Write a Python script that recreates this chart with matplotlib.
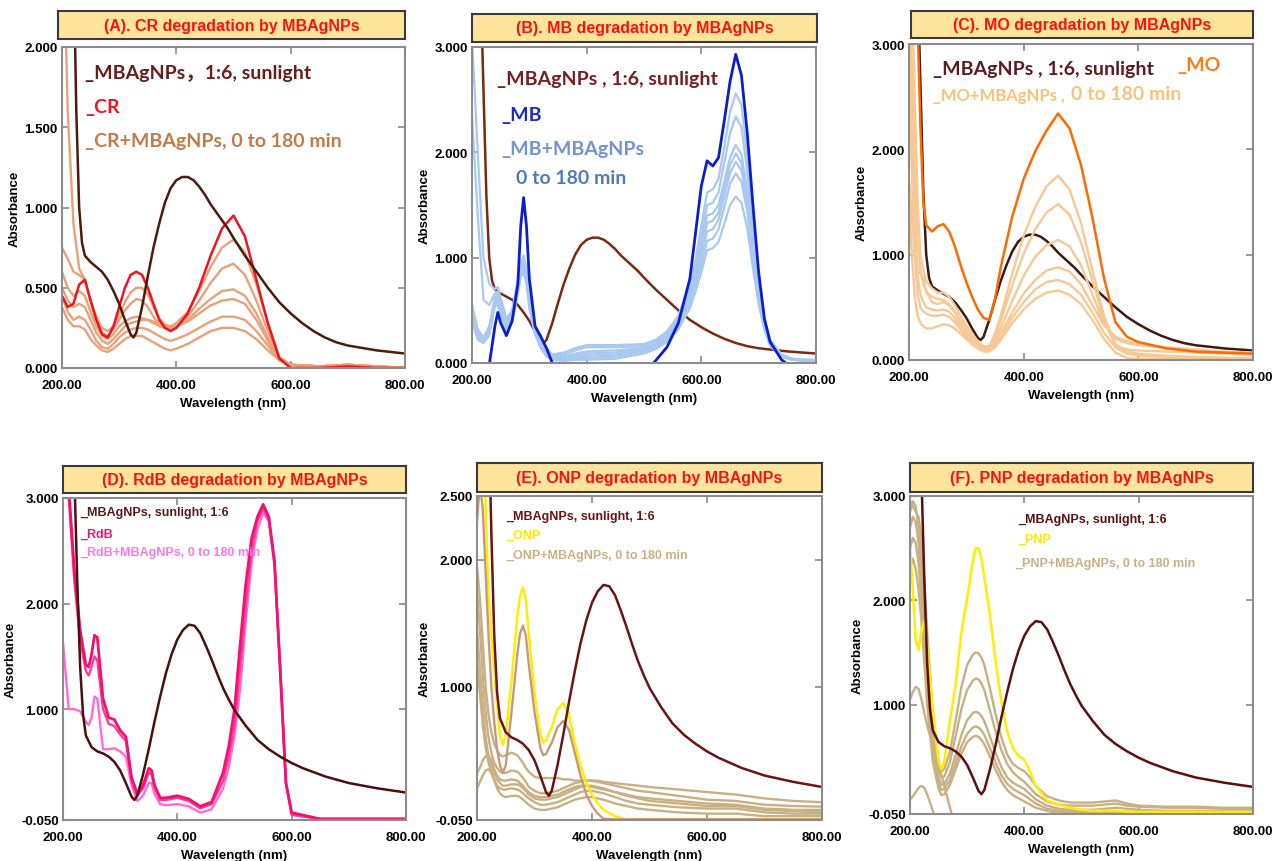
import numpy as np
import matplotlib.pyplot as plt

W, H = 1275, 862
plt.rcParams['font.family'] = ['Liberation Sans', 'DejaVu Sans']
BIG = ['Lato', 'Noto Sans CJK SC', 'DejaVu Sans']

# ---- MBAgNPs reference spectrum (shared grid) ----
wl_ag = [200, 210, 215, 220, 225, 230, 235, 240,
         250, 260, 270, 280, 290, 300, 310, 320,
         325, 330,
         340, 350, 360, 370, 380, 390, 400, 410, 420, 430, 440, 450, 460, 470, 480, 490, 500,
         520, 540, 560, 580, 600, 620, 640, 660, 680, 700,
         750, 800]
ag_top = [4.5, 4.0, 3.6, 2.6, 1.6, 1.0, 0.78, 0.70,
          0.66, 0.63, 0.60, 0.55, 0.48, 0.40, 0.30, 0.21,
          0.19, 0.22,
          0.38, 0.57, 0.75, 0.90, 1.03, 1.12, 1.17, 1.19, 1.19, 1.17, 1.13, 1.08, 1.02, 0.97, 0.92, 0.87, 0.81,
          0.70, 0.60, 0.50, 0.41, 0.34, 0.28, 0.23, 0.19, 0.16, 0.14,
          0.11, 0.09]
ag_bot = [4.0, 4.0, 3.8, 3.2, 2.2, 1.4, 0.95, 0.75,
          0.64, 0.60, 0.58, 0.55, 0.50, 0.42, 0.30, 0.17,
          0.14, 0.18,
          0.38, 0.62, 0.88, 1.12, 1.34, 1.52, 1.66, 1.75, 1.80, 1.79, 1.72, 1.60, 1.47, 1.33, 1.20, 1.09, 0.99,
          0.84, 0.71, 0.62, 0.55, 0.49, 0.44, 0.40, 0.36, 0.33, 0.30,
          0.25, 0.21]

# ---- (A) CR ----
wl_a = [200, 210, 220, 230, 240, 250, 260, 270, 280, 290, 300, 310, 320, 330, 340, 350, 360, 370, 380, 390, 400,
        420, 440, 460, 480, 500, 520, 540, 560, 580, 600,
        650, 700, 750, 800]
cr = [0.45, 0.38, 0.40, 0.52, 0.55, 0.42, 0.30, 0.21, 0.19, 0.26, 0.38, 0.50, 0.58, 0.60, 0.58, 0.50, 0.40, 0.30, 0.25, 0.23, 0.25,
      0.34, 0.50, 0.70, 0.87, 0.95, 0.82, 0.55, 0.28, 0.06, 0.0,
      0.0, 0.01, 0.0, 0.0]
cr_deg = [
    [3.0, 1.6, 0.9, 0.62, 0.55, 0.42, 0.32, 0.25, 0.23, 0.26, 0.33, 0.41, 0.47, 0.50, 0.50, 0.46, 0.38, 0.31, 0.27, 0.26, 0.28,
     0.35, 0.48, 0.63, 0.75, 0.80, 0.72, 0.52, 0.28, 0.07, 0.02, 0.01, 0.02, 0.01, 0.0],
    [0.75, 0.68, 0.60, 0.58, 0.55, 0.42, 0.30, 0.22, 0.20, 0.24, 0.30, 0.36, 0.40, 0.43, 0.42, 0.38, 0.32, 0.27, 0.25, 0.24, 0.26,
     0.32, 0.42, 0.53, 0.62, 0.65, 0.58, 0.42, 0.23, 0.06, 0.02, 0.01, 0.02, 0.01, 0.0],
    [0.60, 0.50, 0.45, 0.48, 0.45, 0.35, 0.26, 0.20, 0.18, 0.21, 0.26, 0.29, 0.31, 0.32, 0.31, 0.30, 0.28, 0.26, 0.25, 0.25, 0.26,
     0.30, 0.37, 0.43, 0.48, 0.49, 0.45, 0.34, 0.19, 0.05, 0.02, 0.01, 0.02, 0.01, 0.0],
    [0.50, 0.42, 0.38, 0.40, 0.38, 0.30, 0.22, 0.17, 0.15, 0.18, 0.22, 0.26, 0.28, 0.29, 0.30, 0.30, 0.29, 0.27, 0.26, 0.25, 0.26,
     0.29, 0.34, 0.39, 0.42, 0.43, 0.40, 0.30, 0.17, 0.05, 0.02, 0.01, 0.02, 0.01, 0.0],
    [0.45, 0.35, 0.30, 0.32, 0.30, 0.24, 0.17, 0.13, 0.12, 0.15, 0.19, 0.22, 0.24, 0.25, 0.25, 0.24, 0.22, 0.20, 0.18, 0.17, 0.18,
     0.21, 0.25, 0.29, 0.32, 0.32, 0.30, 0.23, 0.14, 0.05, 0.02, 0.01, 0.02, 0.01, 0.0],
    [0.38, 0.30, 0.26, 0.26, 0.24, 0.18, 0.14, 0.11, 0.10, 0.12, 0.15, 0.18, 0.20, 0.20, 0.20, 0.18, 0.16, 0.14, 0.12, 0.11, 0.12,
     0.15, 0.19, 0.23, 0.25, 0.25, 0.23, 0.18, 0.11, 0.05, 0.02, 0.01, 0.02, 0.01, 0.0],
]

# ---- (B) MB ----
wl_b = [200, 210, 220, 230, 240, 245, 250, 260, 270, 280, 285,
        290, 295, 300, 310, 320, 330, 340, 360, 380, 400, 450,
        500, 520, 540, 560, 580, 590, 600, 610, 620, 630, 640,
        650, 660, 670, 680, 690, 700, 710, 720, 740, 760, 800]
mb = [-0.1, -0.1, -0.1, -0.02, 0.35, 0.48, 0.38, 0.26, 0.40, 0.75, 1.30,
      1.57, 1.30, 0.80, 0.35, 0.25, 0.14, 0.0, -0.1, -0.1, -0.1, -0.1,
      -0.1, 0.02, 0.15, 0.38, 0.80, 1.24, 1.68, 1.92, 1.87, 1.95, 2.30,
      2.67, 2.93, 2.73, 2.19, 1.50, 0.86, 0.42, 0.20, 0.03, -0.05, -0.1]
mb_deg = [
    [3.10, 2.00, 1.00, 0.75, 0.70, 0.72, 0.62, 0.42, 0.50, 0.80, 0.95,
     1.02, 0.90, 0.65, 0.35, 0.22, 0.14, 0.08, 0.10, 0.14, 0.17, 0.17,
     0.18, 0.22, 0.30, 0.45, 0.75, 0.98, 1.30, 1.62, 1.65, 1.75, 2.05,
     2.38, 2.56, 2.45, 1.98, 1.35, 0.80, 0.42, 0.22, 0.08, 0.04, 0.03],
    [2.35, 1.40, 0.60, 0.55, 0.66, 0.68, 0.58, 0.40, 0.48, 0.77, 0.92,
     0.98, 0.87, 0.62, 0.33, 0.20, 0.12, 0.07, 0.08, 0.12, 0.15, 0.15,
     0.16, 0.20, 0.28, 0.42, 0.70, 0.92, 1.20, 1.50, 1.52, 1.62, 1.90,
     2.18, 2.34, 2.24, 1.82, 1.24, 0.74, 0.40, 0.21, 0.07, 0.03, 0.02],
    [0.55, 0.32, 0.24, 0.35, 0.62, 0.65, 0.55, 0.37, 0.46, 0.74, 0.90,
     0.95, 0.84, 0.60, 0.31, 0.18, 0.10, 0.06, 0.06, 0.09, 0.11, 0.12,
     0.14, 0.18, 0.26, 0.40, 0.66, 0.87, 1.12, 1.40, 1.42, 1.50, 1.72,
     1.95, 2.07, 1.98, 1.64, 1.12, 0.68, 0.37, 0.20, 0.07, 0.03, 0.02],
    [0.48, 0.28, 0.22, 0.32, 0.60, 0.62, 0.52, 0.35, 0.44, 0.72, 0.88,
     0.92, 0.82, 0.58, 0.30, 0.17, 0.09, 0.05, 0.05, 0.07, 0.09, 0.10,
     0.13, 0.17, 0.25, 0.38, 0.63, 0.83, 1.06, 1.33, 1.35, 1.43, 1.65,
     1.88, 1.99, 1.90, 1.58, 1.08, 0.65, 0.36, 0.19, 0.07, 0.03, 0.02],
    [0.45, 0.26, 0.21, 0.30, 0.58, 0.60, 0.50, 0.34, 0.42, 0.70, 0.86,
     0.90, 0.80, 0.56, 0.29, 0.16, 0.08, 0.05, 0.04, 0.05, 0.07, 0.08,
     0.12, 0.16, 0.24, 0.36, 0.60, 0.79, 1.00, 1.25, 1.27, 1.36, 1.58,
     1.80, 1.91, 1.83, 1.52, 1.04, 0.63, 0.35, 0.18, 0.06, 0.03, 0.02],
    [0.42, 0.24, 0.20, 0.28, 0.56, 0.58, 0.48, 0.32, 0.40, 0.68, 0.84,
     0.88, 0.78, 0.54, 0.28, 0.15, 0.07, 0.04, 0.03, 0.04, 0.05, 0.06,
     0.11, 0.15, 0.22, 0.34, 0.56, 0.74, 0.93, 1.16, 1.18, 1.27, 1.48,
     1.70, 1.80, 1.72, 1.44, 0.99, 0.60, 0.33, 0.17, 0.06, 0.03, 0.02],
    [0.40, 0.22, 0.19, 0.26, 0.54, 0.55, 0.46, 0.30, 0.38, 0.66, 0.82,
     0.85, 0.76, 0.52, 0.27, 0.14, 0.06, 0.03, 0.02, 0.03, 0.03, 0.04,
     0.09, 0.13, 0.20, 0.32, 0.52, 0.68, 0.86, 1.07, 1.09, 1.15, 1.32,
     1.50, 1.58, 1.52, 1.28, 0.90, 0.56, 0.31, 0.16, 0.06, 0.03, 0.02],
]

# ---- (C) MO ----
wl_c = [200, 205, 210, 215, 220, 225, 230,
        240, 250, 260, 270, 280, 290, 300, 310, 320, 330, 340, 350, 360, 370, 380,
        400, 420, 440, 460, 480, 500, 520, 540, 560, 580, 600,
        650, 700, 750, 800]
mo = [4.0, 4.0, 3.8, 3.2, 2.2, 1.5, 1.28,
      1.22, 1.27, 1.29, 1.22, 1.08, 0.90, 0.74, 0.60, 0.48, 0.40, 0.38, 0.58, 0.88, 1.12, 1.36,
      1.72, 1.98, 2.18, 2.34, 2.20, 1.85, 1.35, 0.78, 0.36, 0.22, 0.17,
      0.11, 0.08, 0.07, 0.06]
mo_deg = [
    [4.0, 3.5, 2.5, 1.5, 1.0, 0.85, 0.75,
     0.68, 0.64, 0.64, 0.60, 0.52, 0.42, 0.33, 0.25, 0.18, 0.13, 0.13, 0.25, 0.42, 0.62, 0.82,
     1.18, 1.45, 1.65, 1.75, 1.62, 1.30, 0.85, 0.42, 0.15, 0.08, 0.06, 0.04, 0.03, 0.02, 0.02],
    [3.5, 2.8, 1.8, 1.1, 0.85, 0.72, 0.65,
     0.60, 0.58, 0.57, 0.53, 0.46, 0.37, 0.29, 0.22, 0.16, 0.12, 0.12, 0.22, 0.37, 0.54, 0.71,
     1.01, 1.24, 1.40, 1.48, 1.38, 1.12, 0.75, 0.38, 0.14, 0.10, 0.09, 0.08, 0.07, 0.06, 0.05],
    [1.72, 1.35, 1.0, 0.85, 0.82, 0.78, 0.65,
     0.55, 0.53, 0.55, 0.52, 0.45, 0.36, 0.27, 0.20, 0.14, 0.11, 0.11, 0.19, 0.30, 0.43, 0.56,
     0.80, 0.98, 1.09, 1.14, 1.08, 0.90, 0.62, 0.35, 0.20, 0.16, 0.14, 0.12, 0.10, 0.08, 0.07],
    [3.2, 2.2, 1.3, 0.8, 0.62, 0.55, 0.50,
     0.48, 0.47, 0.48, 0.46, 0.40, 0.32, 0.24, 0.18, 0.13, 0.10, 0.10, 0.16, 0.25, 0.35, 0.45,
     0.63, 0.76, 0.85, 0.88, 0.84, 0.72, 0.52, 0.33, 0.22, 0.18, 0.15, 0.11, 0.09, 0.07, 0.05],
    [2.8, 1.8, 1.0, 0.62, 0.50, 0.46, 0.44,
     0.42, 0.42, 0.43, 0.41, 0.36, 0.29, 0.22, 0.16, 0.12, 0.09, 0.09, 0.14, 0.22, 0.31, 0.40,
     0.55, 0.67, 0.74, 0.76, 0.72, 0.62, 0.45, 0.26, 0.12, 0.06, 0.04, 0.03, 0.02, 0.02, 0.01],
    [1.5, 1.0, 0.60, 0.42, 0.35, 0.32, 0.30,
     0.30, 0.32, 0.34, 0.33, 0.30, 0.25, 0.20, 0.15, 0.11, 0.08, 0.08, 0.12, 0.19, 0.27, 0.35,
     0.48, 0.58, 0.64, 0.66, 0.62, 0.53, 0.38, 0.20, 0.07, 0.02, 0.01, 0.01, 0.0, 0.0, 0.0],
]

# ---- (D) RdB ----
wl_d = [200, 210, 220, 230, 240, 245, 250, 255, 260,
        270, 280, 290, 300, 310, 320, 330, 340, 350, 355, 360, 370, 380,
        400, 420, 440, 460, 480,
        490, 500, 510, 520, 530, 540, 550, 560, 570, 580, 590, 600,
        650, 700, 750, 800]
rdb = [3.3, 3.1, 2.3, 1.75, 1.42, 1.40, 1.52, 1.70, 1.68,
       1.10, 0.92, 0.90, 0.80, 0.74, 0.35, 0.20, 0.28, 0.44, 0.42, 0.28, 0.16, 0.16,
       0.18, 0.15, 0.08, 0.12, 0.40,
       0.65, 1.00, 1.62, 2.20, 2.62, 2.82, 2.94, 2.82, 2.40, 1.35, 0.30, 0.02,
       -0.04, -0.04, -0.04, -0.04]
rdb_deg = [
    [3.3, 3.0, 2.2, 1.65, 1.36, 1.32, 1.40, 1.50, 1.46,
     1.00, 0.86, 0.84, 0.76, 0.70, 0.32, 0.18, 0.25, 0.40, 0.38, 0.26, 0.14, 0.14,
     0.16, 0.13, 0.06, 0.10, 0.32,
     0.55, 0.85, 1.40, 2.00, 2.50, 2.78, 2.90, 2.80, 2.38, 1.38, 0.30, 0.0,
     -0.04, -0.04, -0.04, -0.04],
    [1.63, 1.00, 1.00, 0.98, 0.88, 0.85, 0.92, 1.12, 1.10,
     0.62, 0.62, 0.63, 0.60, 0.55, 0.28, 0.13, 0.18, 0.30, 0.30, 0.20, 0.10, 0.09,
     0.10, 0.08, 0.02, 0.05, 0.25,
     0.45, 0.75, 1.20, 1.85, 2.40, 2.70, 2.86, 2.78, 2.35, 1.40, 0.30, 0.0,
     -0.04, -0.04, -0.04, -0.04],
]

# ---- (E) ONP ----
wl_e = [200, 205, 210, 215, 220, 225, 230, 235, 240, 245, 250,
        260, 270, 275, 280, 285, 290, 300, 310, 315, 320,
        330, 340, 350, 360, 370, 380, 390, 400, 410, 420,
        440, 460, 480, 500, 550, 600, 650, 700, 750, 800]
onp = [4.0, 4.0, 3.3, 2.4, 1.75, 1.40, 1.12, 0.85, 0.62, 0.54, 0.62,
       1.05, 1.55, 1.72, 1.78, 1.68, 1.42, 0.95, 0.62, 0.56, 0.58,
       0.68, 0.82, 0.87, 0.78, 0.56, 0.38, 0.24, 0.15, 0.08, 0.03,
       -0.02, -0.045, -0.045, -0.045, -0.045, -0.045, -0.045, -0.045, -0.045, -0.045]
onp_0min = [2.3, 2.6, 2.4, 1.9, 1.4, 1.0, 0.72, 0.50, 0.38, 0.32, 0.38,
            0.80, 1.25, 1.42, 1.48, 1.40, 1.18, 0.80, 0.52, 0.46, 0.47,
            0.56, 0.68, 0.73, 0.66, 0.48, 0.30, 0.15, 0.06, 0.0, -0.04,
            -0.045, -0.045, -0.045, -0.045, -0.045, -0.045, -0.045, -0.045, -0.045, -0.045]
onp_deg = [
    [1.95, 1.70, 1.35, 1.00, 0.78, 0.64, 0.55, 0.50, 0.46, 0.45, 0.46,
     0.48, 0.46, 0.43, 0.40, 0.36, 0.33, 0.29, 0.28, 0.28, 0.28,
     0.28, 0.28, 0.27, 0.27, 0.26, 0.26, 0.26, 0.26, 0.26, 0.25,
     0.24, 0.23, 0.22, 0.21, 0.19, 0.17, 0.15, 0.12, 0.10, 0.09],
    [1.75, 1.45, 1.10, 0.80, 0.60, 0.48, 0.40, 0.36, 0.33, 0.32, 0.32,
     0.34, 0.33, 0.31, 0.28, 0.25, 0.21, 0.18, 0.16, 0.16, 0.16,
     0.17, 0.18, 0.20, 0.22, 0.24, 0.25, 0.26, 0.26, 0.25, 0.24,
     0.22, 0.20, 0.18, 0.17, 0.14, 0.11, 0.10, 0.07, 0.06, 0.055],
    [1.45, 1.15, 0.85, 0.60, 0.45, 0.38, 0.32, 0.27, 0.24, 0.22, 0.22,
     0.23, 0.23, 0.22, 0.20, 0.18, 0.15, 0.12, 0.11, 0.11, 0.11,
     0.12, 0.13, 0.15, 0.17, 0.19, 0.21, 0.22, 0.22, 0.21, 0.20,
     0.17, 0.15, 0.13, 0.12, 0.10, 0.08, 0.07, 0.04, 0.03, 0.03],
    [1.20, 0.95, 0.70, 0.52, 0.40, 0.33, 0.27, 0.22, 0.20, 0.19, 0.19,
     0.20, 0.19, 0.18, 0.16, 0.14, 0.12, 0.09, 0.07, 0.07, 0.07,
     0.08, 0.09, 0.11, 0.13, 0.15, 0.17, 0.18, 0.18, 0.17, 0.16,
     0.13, 0.10, 0.08, 0.07, 0.05, 0.04, 0.04, 0.01, 0.0, 0.0],
    [0.32, 0.36, 0.42, 0.45, 0.46, 0.42, 0.35, 0.30, 0.27, 0.26, 0.26,
     0.27, 0.26, 0.24, 0.22, 0.19, 0.17, 0.14, 0.13, 0.13, 0.13,
     0.14, 0.15, 0.17, 0.19, 0.21, 0.22, 0.22, 0.21, 0.20, 0.19,
     0.17, 0.14, 0.12, 0.10, 0.08, 0.06, 0.06, 0.03, 0.02, 0.01],
    [0.20, 0.25, 0.30, 0.34, 0.35, 0.32, 0.26, 0.20, 0.16, 0.14, 0.13,
     0.14, 0.14, 0.13, 0.11, 0.09, 0.07, 0.04, 0.03, 0.03, 0.03,
     0.04, 0.05, 0.07, 0.09, 0.11, 0.12, 0.13, 0.13, 0.12, 0.11,
     0.08, 0.06, 0.04, 0.03, 0.01, 0.0, 0.0, -0.02, -0.02, -0.02],
]

# ---- (F) PNP ----
wl_f = [200, 205, 210, 215, 220, 225, 230,
        240, 250, 255, 260, 270, 280, 290, 300, 310,
        315, 320, 325, 330, 340, 350, 360, 370, 380, 390, 400, 410, 420,
        440, 460, 480, 500, 520, 540, 560, 580, 600, 650, 700, 750, 800]
pnp = [2.52, 2.10, 1.62, 1.52, 1.70, 1.80, 1.55,
       0.95, 0.45, 0.38, 0.45, 0.85, 1.20, 1.70, 2.02, 2.38,
       2.50, 2.50, 2.40, 2.22, 1.85, 1.40, 1.02, 0.74, 0.58, 0.51, 0.47, 0.36, 0.22,
       0.08, 0.04, 0.01, -0.01, -0.02, -0.02, -0.02, -0.03, -0.03, -0.03, -0.03, -0.03, -0.03]
pnp_deg = [
    [2.95, 2.90, 2.85, 2.80, 2.60, 2.20, 1.70,
     0.90, 0.45, 0.36, 0.38, 0.55, 0.85, 1.17, 1.38, 1.48,
     1.50, 1.49, 1.45, 1.38, 1.15, 0.90, 0.68, 0.52, 0.43, 0.39, 0.36, 0.30, 0.22,
     0.12, 0.08, 0.06, 0.06, 0.06, 0.07, 0.08, 0.05, 0.03, 0.02, 0.02, 0.01, 0.01],
    [2.85, 2.95, 2.90, 2.70, 2.40, 2.00, 1.50,
     0.78, 0.38, 0.30, 0.31, 0.45, 0.70, 0.96, 1.14, 1.23,
     1.25, 1.24, 1.20, 1.14, 0.94, 0.74, 0.56, 0.43, 0.35, 0.30, 0.26, 0.20, 0.14,
     0.07, 0.04, 0.03, 0.03, 0.03, 0.04, 0.05, 0.03, 0.02, 0.01, 0.01, 0.0, 0.0],
    [2.70, 2.80, 2.75, 2.55, 2.20, 1.80, 1.30,
     0.65, 0.30, 0.23, 0.24, 0.34, 0.52, 0.71, 0.85, 0.92,
     0.93, 0.92, 0.89, 0.84, 0.69, 0.53, 0.40, 0.30, 0.25, 0.22, 0.19, 0.14, 0.09,
     0.03, 0.0, -0.01, -0.01, -0.01, 0.0, 0.01, 0.0, -0.01, -0.02, -0.02, -0.02, -0.02],
    [2.50, 2.60, 2.55, 2.35, 2.00, 1.60, 1.15,
     0.55, 0.25, 0.18, 0.19, 0.28, 0.44, 0.60, 0.72, 0.78,
     0.79, 0.78, 0.75, 0.71, 0.58, 0.44, 0.32, 0.24, 0.19, 0.16, 0.13, 0.09, 0.05,
     0.0, -0.02, -0.03, -0.03, -0.03, -0.03, -0.03, -0.03, -0.03, -0.03, -0.03, -0.03, -0.03],
    [2.30, 2.40, 2.30, 2.10, 1.80, 1.40, 1.00,
     0.45, 0.19, 0.13, 0.14, 0.23, 0.38, 0.53, 0.64, 0.69,
     0.70, 0.69, 0.66, 0.62, 0.50, 0.37, 0.26, 0.18, 0.13, 0.10, 0.07, 0.04, 0.01,
     -0.02, -0.04, -0.04, -0.04, -0.04, -0.04, -0.04, -0.04, -0.04, -0.04, -0.04, -0.04, -0.04],
]
# two short traces that leave the frame early
pnp_low1 = [1.05, 1.12, 1.17, 1.15, 1.05, 0.92, 0.80, 0.60, 0.42, 0.32, 0.22, 0.01, -0.20]
pnp_low2 = [0.09, 0.12, 0.16, 0.20, 0.22, 0.20, 0.14, -0.02, -0.20]

titles = ['(A). CR degradation by MBAgNPs', '(B). MB degradation by MBAgNPs',
          '(C). MO degradation by MBAgNPs', '(D). RdB degradation by MBAgNPs',
          '(E). ONP degradation by MBAgNPs', '(F). PNP degradation by MBAgNPs']

fig = plt.figure(figsize=(W / 100, H / 100), dpi=100)


def px_axes(left, top, right, bottom):
    return fig.add_axes([left / W, 1 - bottom / H, (right - left) / W, (bottom - top) / H])


def ftext(x, y, s, color, size, family=None):
    fig.text(x / W, 1 - y / H, s, color=color, fontsize=size, fontweight='bold',
             ha='left', va='center', family=family)


def setup(ax, ylim, yticks):
    ax.set_xlim(200, 800)
    ax.set_ylim(*ylim)
    ax.set_xticks([200, 400, 600, 800])
    ax.set_xticklabels(['200.00', '400.00', '600.00', '800.00'])
    ax.set_yticks(yticks)
    ax.set_yticklabels(['%.3f' % v for v in yticks])
    ax.tick_params(direction='in', top=True, right=True, length=5, width=1.2,
                   color='#8a8a8a', labelsize=9.5)
    ax.tick_params(axis='x', pad=8)
    ax.tick_params(axis='y', pad=3)
    for lab in ax.get_xticklabels() + ax.get_yticklabels():
        lab.set_fontweight('bold')
    for s in ax.spines.values():
        s.set_color('#8c8c8c')
        s.set_linewidth(1.5)
    ax.set_xlabel('Wavelength (nm)', fontsize=9.5, fontweight='bold', labelpad=4)
    ax.set_ylabel('Absorbance', fontsize=9.5, fontweight='bold', labelpad=3)


def title_box(rect, text):
    bx = px_axes(*rect)
    bx.set_xticks([])
    bx.set_yticks([])
    bx.set_facecolor('#FFE49C')
    for s in bx.spines.values():
        s.set_color('#3a3a3a')
        s.set_linewidth(1.5)
    bx.text(0.5, 0.5, text, ha='center', va='center', color='#FF1010',
            fontsize=11.5, fontweight='bold', transform=bx.transAxes)


LW = 1.8

# (A)
ax = px_axes(62, 48, 405, 369)
for row in cr_deg:
    ax.plot(wl_a, row, color='#E6A27A', lw=1.7)
ax.plot(wl_a, cr, color='#F0141E', lw=LW)
ax.plot(wl_ag, ag_top, color='#4A1C0C', lw=LW)
setup(ax, (0, 2.0), [0, 0.5, 1.0, 1.5, 2.0])
title_box((58, 12, 405, 40), titles[0])
ftext(85, 74, '_MBAgNPs，1:6, sunlight', '#6A1C1C', 14, BIG)
ftext(85, 107, '_CR', '#F0141E', 14, BIG)
ftext(85, 141, '_CR+MBAgNPs, 0 to 180 min', '#C47A48', 14, BIG)

# (B)
ax = px_axes(472, 48, 816, 364)
ax.plot(wl_ag, ag_top, color='#7A2A10', lw=LW)
for row in mb_deg:
    ax.plot(wl_b, row, color='#A9C8F0', lw=1.6)
ax.plot(wl_b, mb, color='#0A1ECC', lw=2.0)
setup(ax, (0, 3.0), [0, 1.0, 2.0, 3.0])
title_box((472, 15, 817, 43), titles[1])
ftext(497, 79, '_MBAgNPs , 1:6, sunlight', '#7A1E1E', 14, BIG)
ftext(501, 116, '_MB', '#1A2ACC', 14, BIG)
ftext(501, 149, '_MB+MBAgNPs', '#6F93D4', 14, BIG)
ftext(516, 178, '0 to 180 min', '#4E7DBA', 14, BIG)

# (C)
ax = px_axes(909, 45, 1253, 361)
ax.plot(wl_ag, ag_top, color='#3E1A12', lw=LW)
for row in mo_deg:
    ax.plot(wl_c, row, color='#F6C895', lw=1.7)
ax.plot(wl_c, mo, color='#FF6A00', lw=LW)
setup(ax, (0, 3.0), [0, 1.0, 2.0, 3.0])
title_box((911, 12, 1253, 39), titles[2])
ftext(933, 69, '_MBAgNPs , 1:6, sunlight', '#5A1C22', 14, BIG)
ftext(1177, 66, '_MO', '#FF7A10', 14, BIG)
ftext(933, 96, '_MO+MBAgNPs ,', '#F5C47A', 12, BIG)
ftext(1071, 95, '0 to 180 min', '#F5C47A', 14, BIG)

# (D)
ax = px_axes(63, 499, 406, 821)
ax.plot(wl_d, rdb_deg[1], color='#FF6AD8', lw=1.7)
ax.plot(wl_d, rdb_deg[0], color='#F83C9C', lw=1.7)
ax.plot(wl_d, rdb, color='#F5106E', lw=2.0)
ax.plot(wl_ag, ag_bot, color='#4A1010', lw=LW)
setup(ax, (-0.05, 3.0), [-0.05, 1.0, 2.0, 3.0])
title_box((63, 467, 406, 494), titles[3])
ftext(80, 513, '_MBAgNPs, sunlight, 1:6', '#5A1A1A', 9)
ftext(80, 535, '_RdB', '#F5106E', 9)
ftext(80, 553, '_RdB+MBAgNPs, 0 to 180 min', '#FF78E0', 9)

# (E)
ax = px_axes(477, 497, 822, 821)
for row in onp_deg:
    ax.plot(wl_e, row, color='#C8B083', lw=1.7)
ax.plot(wl_e, onp, color='#FFEE00', lw=LW)
ax.plot(wl_e, onp_0min, color='#C8987A', lw=1.7)
ax.plot(wl_ag, ag_bot, color='#6A1414', lw=LW)
setup(ax, (-0.05, 2.5), [-0.05, 1.0, 2.0, 2.5])
title_box((477, 464, 822, 493), titles[4])
ftext(506, 517, '_MBAgNPs, sunlight, 1:6', '#6A1414', 9)
ftext(506, 536, '_ONP', '#FFE800', 9)
ftext(506, 556, '_ONP+MBAgNPs, 0 to 180 min', '#C8B083', 9)

# (F)
ax = px_axes(910, 497, 1253, 815)
for row in pnp_deg:
    ax.plot(wl_f, row, color='#C8B083', lw=1.7)
ax.plot(wl_f[:len(pnp_low1)], pnp_low1, color='#C8B083', lw=1.7)
ax.plot(wl_f[:len(pnp_low2)], pnp_low2, color='#C8B083', lw=1.7)
ax.plot(wl_f, pnp, color='#FFEE00', lw=LW)
ax.plot(wl_ag, ag_bot, color='#5A1010', lw=LW)
setup(ax, (-0.05, 3.0), [-0.05, 1.0, 2.0, 3.0])
title_box((910, 464, 1253, 493), titles[5])
ftext(1018, 520, '_MBAgNPs, sunlight, 1:6', '#5A1010', 9)
ftext(1018, 540, '_PNP', '#FFE800', 9)
ftext(1015, 564, '_PNP+MBAgNPs, 0 to 180 min', '#C8B083', 9)

fig.savefig('out.png', dpi=100)
